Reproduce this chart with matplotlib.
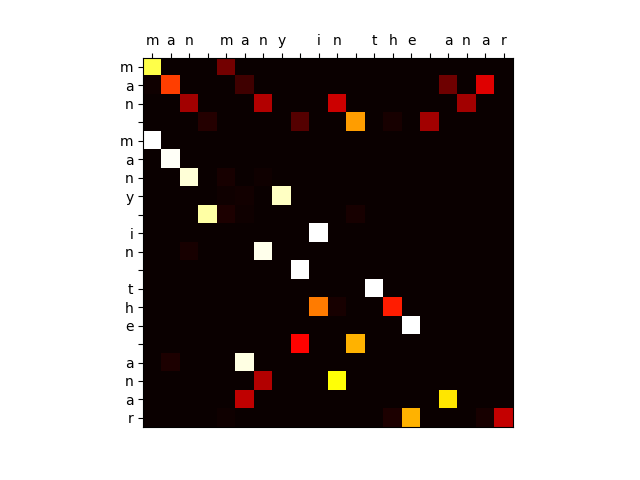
import numpy as np
import matplotlib
matplotlib.use('Agg')
import matplotlib.pyplot as plt

# input / output characters
src_chars = list("man many in the anar")
tgt_chars = list("man many in the anar")

# attention weights per output row: {input column: weight}, the rest ~0
row_weights = [
    {0: 0.82, 4: 0.16},
    {0: 0.01, 1: 0.46, 5: 0.08, 16: 0.15, 18: 0.32},
    {2: 0.23, 6: 0.25, 10: 0.29, 17: 0.23},
    {3: 0.04, 8: 0.11, 11: 0.60, 13: 0.02, 15: 0.23},
    {0: 1.00},
    {1: 0.99},
    {2: 0.96, 4: 0.02, 6: 0.01},
    {4: 0.01, 5: 0.015, 7: 0.94},
    {3: 0.91, 4: 0.03, 5: 0.01, 11: 0.02},
    {9: 1.00},
    {2: 0.02, 6: 0.98},
    {8: 1.00},
    {12: 1.00},
    {9: 0.55, 10: 0.02, 13: 0.41},
    {14: 1.00},
    {8: 0.37, 11: 0.63},
    {1: 0.03, 5: 0.97},
    {6: 0.25, 10: 0.75},
    {5: 0.27, 16: 0.71},
    {4: 0.01, 13: 0.03, 14: 0.63, 18: 0.02, 19: 0.28},
]

attn = np.zeros((len(tgt_chars), len(src_chars)))
for r, weights in enumerate(row_weights):
    for c, w in weights.items():
        attn[r, c] = w

fig, ax = plt.subplots(figsize=(6.4, 4.8), dpi=100)
ax.imshow(attn, cmap='hot', vmin=0, vmax=1)

ax.xaxis.tick_top()
ax.set_xticks(range(len(src_chars)))
ax.set_xticklabels(src_chars, fontsize=10)
ax.set_yticks(range(len(tgt_chars)))
ax.set_yticklabels(tgt_chars, fontsize=10)

fig.savefig('out.png', dpi=100)
